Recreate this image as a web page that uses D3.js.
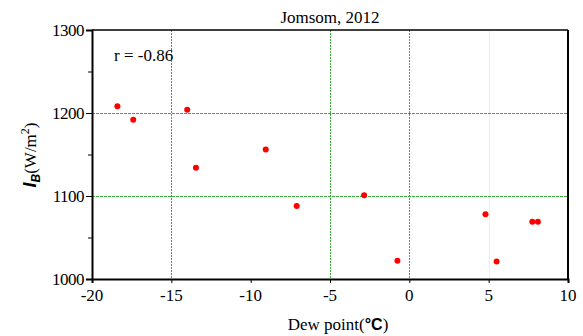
<!DOCTYPE html>
<html>
<head>
<meta charset="utf-8">
<script src="https://cdn.jsdelivr.net/npm/d3@7"></script>
</head>
<body style="margin:0">
<script>
// dew point (deg C) vs I_B (W/m2), Jomsom 2012
var dewPoint = [-18.4, -17.4, -14.0, -13.45, -9.05, -7.1, -2.85, -0.75, 4.8, 5.5, 7.75, 8.1]
var irradiance = [1208, 1192, 1204, 1134, 1156, 1088, 1101, 1022, 1078, 1021, 1069, 1069]
var xTicks = [-20, -15, -10, -5, 0, 5, 10]
var yTicks = [1000, 1100, 1200, 1300]
var yMinor = [1050, 1150, 1250]
var xGrid = [-15, -5, 0]
var yGrid = [1100, 1200]

var w = 583
var h = 336
var mLeft = 92, mRight = 568, mTop = 30, mBottom = 279
var serif = "'Liberation Serif'"
var sans = "'Liberation Sans'"

var svg = d3.select('body')
  .append('svg')
  .attr('width', w)
  .attr('height', h)

var x = d3.scaleLinear().domain([-20, 10]).range([mLeft, mRight])
var y = d3.scaleLinear().domain([1000, 1300]).range([mBottom, mTop])

// faint grid line at 5
svg.append('line')
  .attr('x1', Math.round(x(5)) + 0.5).attr('x2', Math.round(x(5)) + 0.5)
  .attr('y1', mTop).attr('y2', mBottom)
  .attr('stroke', '#eeeeee')

// green dotted grid
svg.selectAll('.gx')
  .data(xGrid)
  .enter()
  .append('line')
  .attr('x1', function(d){ return Math.round(x(d)) + 0.5 })
  .attr('x2', function(d){ return Math.round(x(d)) + 0.5 })
  .attr('y1', mTop)
  .attr('y2', mBottom)
  .attr('stroke', '#3aa83a')
  .attr('stroke-dasharray', '2,1')

svg.selectAll('.gy')
  .data(yGrid)
  .enter()
  .append('line')
  .attr('x1', mLeft)
  .attr('x2', mRight)
  .attr('y1', function(d){ return Math.round(y(d)) + 0.5 })
  .attr('y2', function(d){ return Math.round(y(d)) + 0.5 })
  .attr('stroke', '#3aa83a')
  .attr('stroke-dasharray', '3,1')

// axes (lines only, labels drawn as plain text below)
var xAxis = svg.append('g')
  .attr('transform', 'translate(0,' + mBottom + ')')
  .call(d3.axisBottom(x).tickValues(xTicks).tickSize(4).tickFormat(''))
xAxis.select('.domain').attr('stroke-width', 2)

var yAxis = svg.append('g')
  .attr('transform', 'translate(' + mLeft + ',0)')
  .call(d3.axisLeft(y).tickValues(yTicks).tickSize(6).tickFormat(''))
yAxis.select('.domain').attr('stroke-width', 2)

svg.append('g')
  .attr('transform', 'translate(' + mLeft + ',0)')
  .call(d3.axisLeft(y).tickValues(yMinor).tickSize(4).tickFormat(''))
  .select('.domain').remove()

svg.selectAll('g').attr('font-family', null).attr('font-size', null)

// top and right frame
svg.append('line')
  .attr('x1', mLeft).attr('x2', mRight)
  .attr('y1', mTop).attr('y2', mTop)
  .attr('stroke', '#000').attr('stroke-width', 1.5)
svg.append('line')
  .attr('x1', mRight).attr('x2', mRight)
  .attr('y1', mTop).attr('y2', mBottom)
  .attr('stroke', '#000').attr('stroke-width', 2)

// points
svg.selectAll('circle')
  .data(dewPoint)
  .enter()
  .append('circle')
  .attr('cx', function(d){ return x(d) })
  .attr('cy', function(d, i){ return y(irradiance[i]) })
  .attr('r', 3)
  .attr('fill', '#ff0000')

// tick labels
svg.selectAll('.xl')
  .data(xTicks)
  .enter()
  .append('text')
  .attr('class', 'serif')
  .attr('x', function(d){ return x(d) })
  .attr('y', mBottom + 22)
  .attr('text-anchor', 'middle')
  .style('font-size', '17px')
  .text(function(d){ return d })

svg.selectAll('.yl')
  .data(yTicks)
  .enter()
  .append('text')
  .attr('class', 'serif')
  .attr('x', mLeft - 8)
  .attr('y', function(d){ return y(d) + 6 })
  .attr('text-anchor', 'end')
  .style('font-size', '17px')
  .style('letter-spacing', '-0.5px')
  .text(function(d){ return d })

// title
svg.append('text')
  .attr('class', 'serif')
  .attr('x', (mLeft + mRight) / 2)
  .attr('y', 23)
  .attr('text-anchor', 'middle')
  .style('font-size', '17px')
  .text('Jomsom, 2012')

svg.append('text')
  .attr('class', 'serif')
  .attr('x', 114)
  .attr('y', 61)
  .style('font-size', '17px')
  .text('r = -0.86')

// x label
var xl = svg.append('text')
  .attr('class', 'serif')
  .attr('x', (mLeft + mRight) / 2 + 8)
  .attr('y', 330)
  .attr('text-anchor', 'middle')
  .style('font-size', '17px')
xl.append('tspan').text('Dew point(')
xl.append('tspan').text('\u00B0C')
  .attr('class', 'sans')
  .style('font-weight', 'bold')
  .style('font-size', '16px')
xl.append('tspan').text(')')

// y label
var yl = svg.append('text')
  .attr('class', 'serif')
  .attr('transform', 'translate(36,155) rotate(-90)')
  .attr('text-anchor', 'middle')
  .style('font-size', '17px')
yl.append('tspan').text('I')
  .attr('class', 'sans')
  .style('font-weight', 'bold')
  .style('font-style', 'italic')
  .style('font-size', '18px')
yl.append('tspan').text('B')
  .attr('class', 'sans')
  .style('font-weight', 'bold')
  .style('font-style', 'italic')
  .style('font-size', '12px')
  .attr('dy', 4)
yl.append('tspan').text('(W/m')
  .attr('dy', -4)
yl.append('tspan').text('2')
  .style('font-size', '12px')
  .attr('dy', -7)
yl.append('tspan').text(')')
  .attr('dy', 7)

function applyFonts() {
  svg.selectAll('.serif').style('font-family', serif)
  svg.selectAll('.sans').style('font-family', sans)
}
applyFonts()
if (document.fonts && document.fonts.load) {
  Promise.all([
    document.fonts.load('17px "Liberation Serif"'),
    document.fonts.load('bold 16px "Liberation Sans"')
  ]).then(applyFonts)
}
</script>
</body>
</html>
